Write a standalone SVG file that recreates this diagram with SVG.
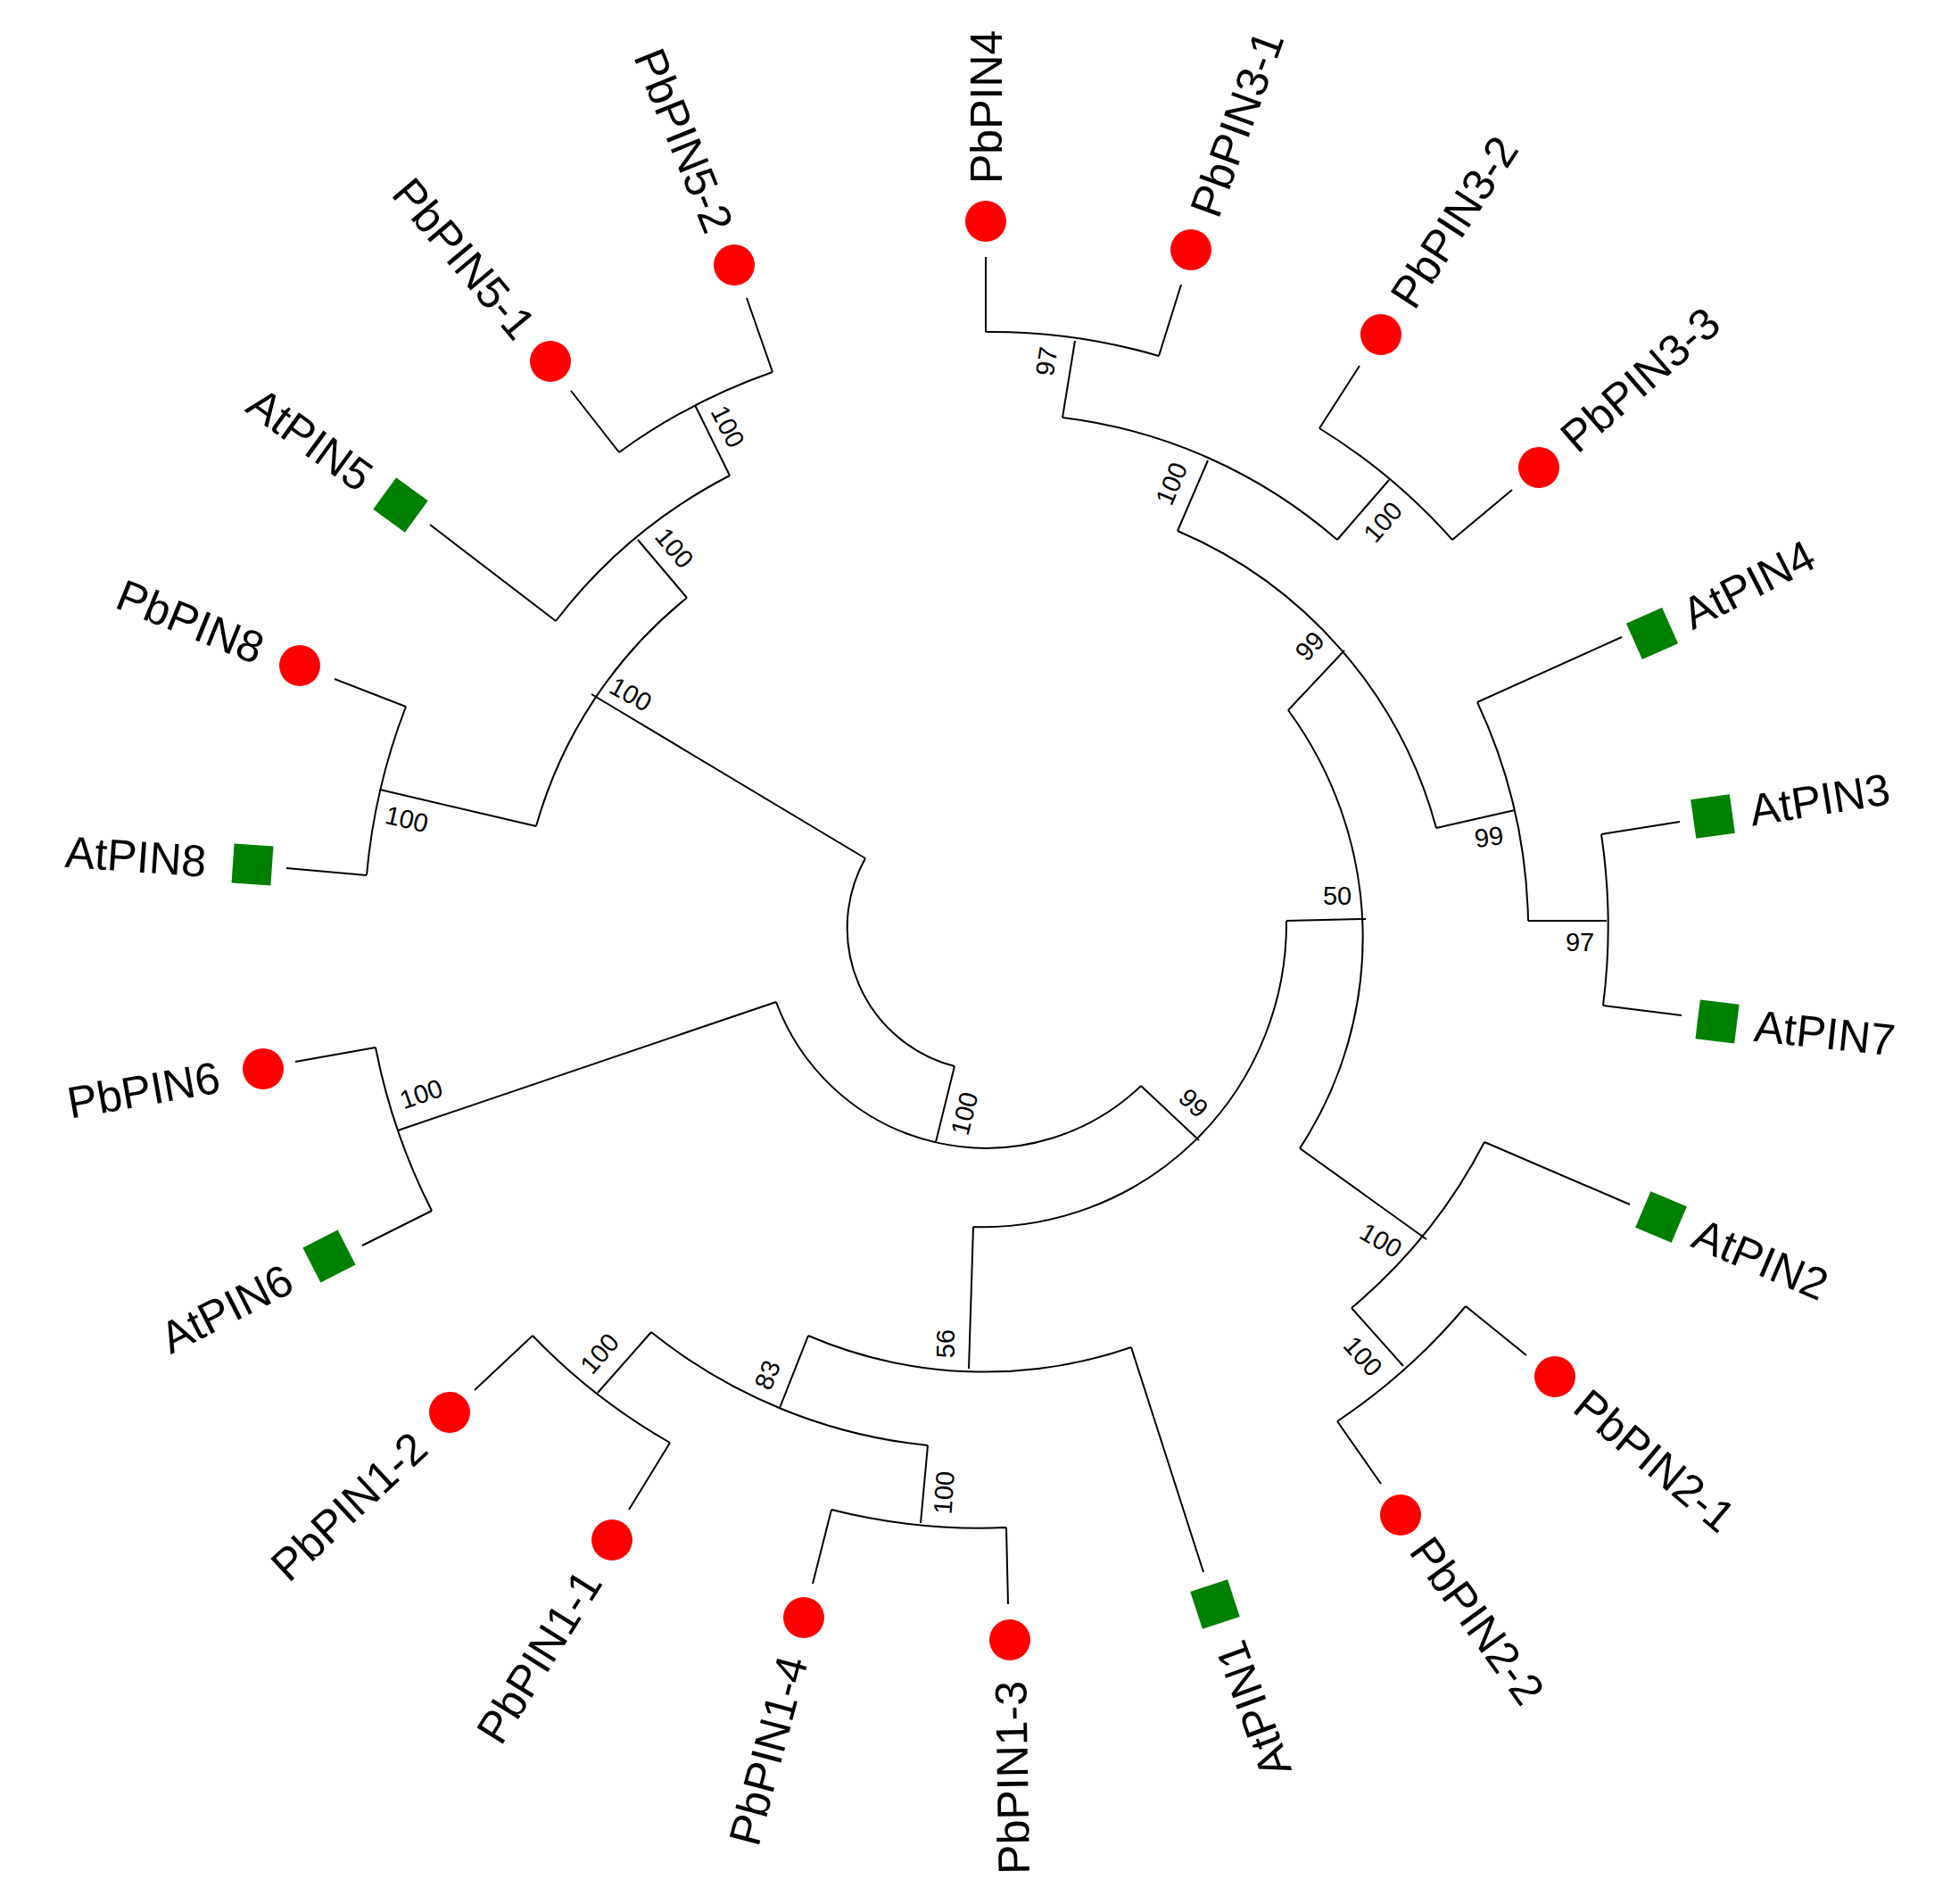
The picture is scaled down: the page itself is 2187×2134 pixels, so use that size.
<svg xmlns="http://www.w3.org/2000/svg" width="2187" height="2134" viewBox="0 0 2187 2134">
<style>
.e{fill:none;stroke:#000;stroke-width:2}
.lab{font-family:"Liberation Sans",Arial,sans-serif;font-size:50px;fill:#000}
.bs{font-family:"Liberation Sans",Arial,sans-serif;font-size:29px;fill:#000;text-anchor:middle}
.pb{fill:#ff0000}
.at{fill:#008000}
</style>
<rect width="2187" height="2134" fill="#fff"/>
<g id="connectors" class="e">
<path d="M1070,1195 A160,160 0 0 1 970,962 M1070,1195 L1049,1280 M970,962 L663,778"/>
<path d="M1279,1217 A251,251 0 0 1 870,1123 M870,1123 L446,1267 M1279,1217 L1344,1278"/>
<path d="M1442,1032 A340,340 0 0 1 1091,1375 M1442,1032 L1531,1030 M1091,1375 L1086,1534"/>
<path d="M484,1357 A699,699 0 0 1 421,1174 M421,1174 L331,1190 M484,1357 L406,1396"/>
<path d="M601,926 A505,505 0 0 1 770,670 M770,670 L715,605 M601,926 L426,885"/>
<path d="M411,981 A695,695 0 0 1 455,792 M455,792 L375,761 M411,981 L321,973"/>
<path d="M623,696 A583,583 0 0 1 818,533 M623,696 L482,588 M818,533 L779,454"/>
<path d="M694,507 A666,666 0 0 1 866,417 M694,507 L640,438 M866,417 L837,334"/>
<path d="M1444,796 A430,430 0 0 1 1457,1287 M1444,796 L1507,729"/>
<path d="M1320,595 A505,505 0 0 1 1610,928 M1610,928 L1698,908"/>
<path d="M1656,787 A605,605 0 0 1 1713,1032 M1656,787 L1818,714 M1713,1032 L1801,1032"/>
<path d="M1795,935 A697,697 0 0 1 1797,1127 M1795,935 L1883,921 M1797,1127 L1885,1138"/>
<path d="M1457,1287 L1599,1389 M1664,1280 A605,605 0 0 1 1515,1466 M1664,1280 L1827,1350 M1515,1466 L1573,1531"/>
<path d="M1643,1464 A684,684 0 0 1 1499,1593 M1643,1464 L1711,1519 M1499,1593 L1548,1663"/>
<path d="M1320,595 L1354,516 M1191,468 A576,576 0 0 1 1499,605 M1191,468 L1205,382"/>
<path d="M1105,372 A663,663 0 0 1 1299,399 M1105,372 L1105,288 M1299,399 L1324,319"/>
<path d="M1499,605 L1557,538 M1479,480 A672,672 0 0 1 1628,605 M1479,480 L1524,410 M1628,605 L1695,549"/>
<path d="M1268,1510 A502,502 0 0 1 906,1497 M1268,1510 L1349,1762 M906,1497 L874,1578"/>
<path d="M1040,1620 A590,590 0 0 1 730,1493 M730,1493 L670,1561 M1040,1620 L1032,1707"/>
<path d="M751,1617 A684,684 0 0 1 597,1497 M597,1497 L532,1558 M751,1617 L705,1692"/>
<path d="M1128,1712 A677,677 0 0 1 932,1692 M932,1692 L911,1775 M1128,1712 L1130,1798"/>
</g>
<g id="bootstrap">
<text class="bs" transform="translate(816,478) rotate(63)" dy="0.35em">100</text>
<text class="bs" transform="translate(756,614) rotate(50)" dy="0.35em">100</text>
<text class="bs" transform="translate(707,778) rotate(29)" dy="0.35em">100</text>
<text class="bs" transform="translate(456,918) rotate(13)" dy="0.35em">100</text>
<text class="bs" transform="translate(472,1226) rotate(-19)" dy="0.35em">100</text>
<text class="bs" transform="translate(1081,1248) rotate(-76)" dy="0.35em">100</text>
<text class="bs" transform="translate(1338,1236) rotate(43)" dy="0.35em">99</text>
<text class="bs" transform="translate(1499,1004)" dy="0.35em">50</text>
<text class="bs" transform="translate(1669,938) rotate(-8)" dy="0.35em">99</text>
<text class="bs" transform="translate(1771,1056)" dy="0.35em">97</text>
<text class="bs" transform="translate(1468,724) rotate(-47)" dy="0.35em">99</text>
<text class="bs" transform="translate(1548,1390) rotate(30)" dy="0.35em">100</text>
<text class="bs" transform="translate(1528,1520) rotate(48)" dy="0.35em">100</text>
<text class="bs" transform="translate(1060,1506) rotate(-90)" dy="0.35em">56</text>
<text class="bs" transform="translate(860,1541) rotate(-68)" dy="0.35em">83</text>
<text class="bs" transform="translate(1058,1673) rotate(-86)" dy="0.35em">100</text>
<text class="bs" transform="translate(672,1517) rotate(-49)" dy="0.35em">100</text>
<text class="bs" transform="translate(1173,405) rotate(-81)" dy="0.35em">97</text>
<text class="bs" transform="translate(1313,542) rotate(-67)" dy="0.35em">100</text>
<text class="bs" transform="translate(1550,585) rotate(-49)" dy="0.35em">100</text>
</g>
<g id="PbPIN4" transform="translate(1105,248)"><circle class="pb" r="23"/><text class="lab" transform="rotate(-90)" x="42" dy="0.35em">PbPIN4</text></g>
<g id="PbPIN3-1" transform="translate(1335,280)"><circle class="pb" r="23"/><text class="lab" transform="rotate(-70)" x="42" dy="0.35em">PbPIN3-1</text></g>
<g id="PbPIN3-2" transform="translate(1548,375)"><circle class="pb" r="23"/><text class="lab" transform="rotate(-57)" x="42" dy="0.35em">PbPIN3-2</text></g>
<g id="PbPIN3-3" transform="translate(1725,524)"><circle class="pb" r="23"/><text class="lab" transform="rotate(-41)" x="42" dy="0.35em">PbPIN3-3</text></g>
<g id="AtPIN4" transform="translate(1852,710)"><rect class="at" x="-22" y="-22" width="44" height="44" transform="rotate(-24)"/><text class="lab" transform="rotate(-27)" x="42" dy="0.35em">AtPIN4</text></g>
<g id="AtPIN3" transform="translate(1920,915)"><rect class="at" x="-22" y="-22" width="44" height="44" transform="rotate(-8)"/><text class="lab" transform="rotate(-9)" x="42" dy="0.35em">AtPIN3</text></g>
<g id="AtPIN7" transform="translate(1925,1145)"><rect class="at" x="-22" y="-22" width="44" height="44" transform="rotate(7)"/><text class="lab" transform="rotate(6)" x="42" dy="0.35em">AtPIN7</text></g>
<g id="AtPIN2" transform="translate(1862,1364)"><rect class="at" x="-22" y="-22" width="44" height="44" transform="rotate(23)"/><text class="lab" transform="rotate(23)" x="42" dy="0.35em">AtPIN2</text></g>
<g id="PbPIN2-1" transform="translate(1743,1543)"><circle class="pb" r="23"/><text class="lab" transform="rotate(40)" x="38" dy="0.35em">PbPIN2-1</text></g>
<g id="PbPIN2-2" transform="translate(1570,1698)"><circle class="pb" r="23"/><text class="lab" transform="rotate(54)" x="38" dy="0.35em">PbPIN2-2</text></g>
<g id="AtPIN1" transform="translate(1362,1798)"><rect class="at" x="-22" y="-22" width="44" height="44" transform="rotate(-18)"/><text class="lab" transform="rotate(-110)" x="-46" dy="0.35em" text-anchor="end">AtPIN1</text></g>
<g id="PbPIN1-3" transform="translate(1132,1838)"><circle class="pb" r="23"/><text class="lab" transform="rotate(-91)" x="-46" dy="0.35em" text-anchor="end">PbPIN1-3</text></g>
<g id="PbPIN1-4" transform="translate(901,1813)"><circle class="pb" r="23"/><text class="lab" transform="rotate(-75)" x="-46" dy="0.35em" text-anchor="end">PbPIN1-4</text></g>
<g id="PbPIN1-1" transform="translate(686,1726)"><circle class="pb" r="23"/><text class="lab" transform="rotate(-58)" x="-46" dy="0.35em" text-anchor="end">PbPIN1-1</text></g>
<g id="PbPIN1-2" transform="translate(504,1583)"><circle class="pb" r="23"/><text class="lab" transform="rotate(-43)" x="-46" dy="0.35em" text-anchor="end">PbPIN1-2</text></g>
<g id="AtPIN6" transform="translate(369,1408)"><rect class="at" x="-22" y="-22" width="44" height="44" transform="rotate(-27)"/><text class="lab" transform="rotate(-27)" x="-50" dy="0.35em" text-anchor="end">AtPIN6</text></g>
<g id="PbPIN6" transform="translate(295,1198)"><circle class="pb" r="23"/><text class="lab" transform="rotate(-10)" x="-50" dy="0.35em" text-anchor="end">PbPIN6</text></g>
<g id="AtPIN8" transform="translate(283,969)"><rect class="at" x="-22" y="-22" width="44" height="44" transform="rotate(4)"/><text class="lab" transform="rotate(4)" x="-52" dy="0.35em" text-anchor="end">AtPIN8</text></g>
<g id="PbPIN8" transform="translate(336,746)"><circle class="pb" r="23"/><text class="lab" transform="rotate(22)" x="-46" dy="0.35em" text-anchor="end">PbPIN8</text></g>
<g id="AtPIN5" transform="translate(449,566)"><rect class="at" x="-22" y="-22" width="44" height="44" transform="rotate(36)"/><text class="lab" transform="rotate(36)" x="-46" dy="0.35em" text-anchor="end">AtPIN5</text></g>
<g id="PbPIN5-1" transform="translate(617,405)"><circle class="pb" r="23"/><text class="lab" transform="rotate(50)" x="-42" dy="0.35em" text-anchor="end">PbPIN5-1</text></g>
<g id="PbPIN5-2" transform="translate(823,297)"><circle class="pb" r="23"/><text class="lab" transform="rotate(68)" x="-42" dy="0.35em" text-anchor="end">PbPIN5-2</text></g>
</svg>
